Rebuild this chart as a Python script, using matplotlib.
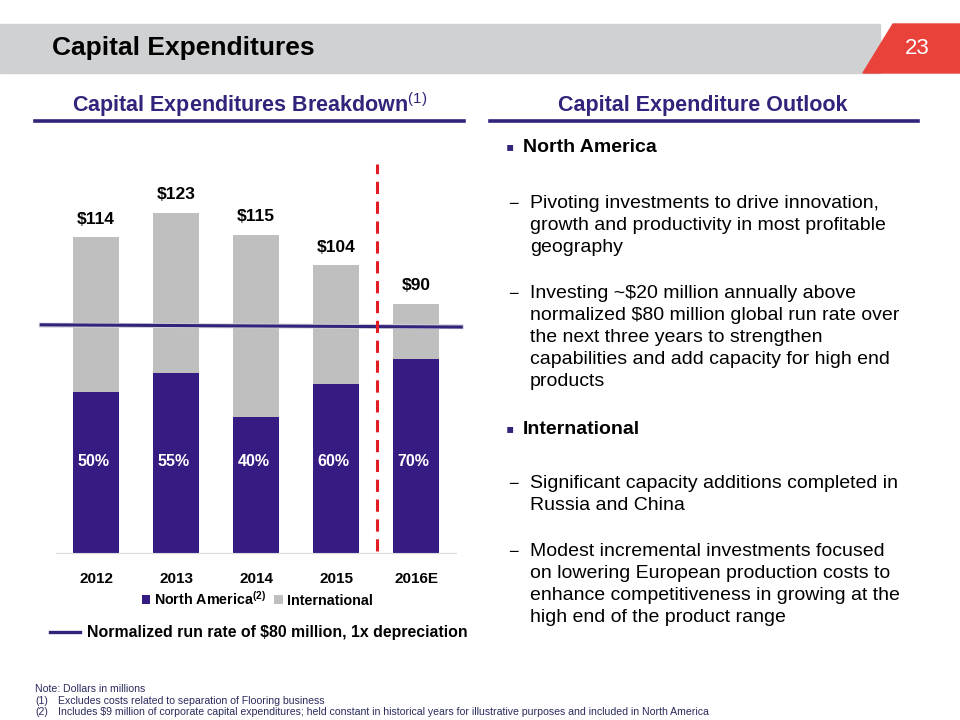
import matplotlib.pyplot as plt
import matplotlib.patches as mpatches
from matplotlib.lines import Line2D
import numpy as np

plt.rcParams['font.family'] = ['Liberation Sans', 'DejaVu Sans']
plt.rcParams['mathtext.fontset'] = 'custom'
plt.rcParams['mathtext.rm'] = 'Liberation Sans'
plt.rcParams['mathtext.bf'] = 'Liberation Sans:bold'

# data
years = ['2012', '2013', '2014', '2015', '2016E']
totals = [114, 123, 115, 104, 90]
north_america = [58, 65, 49, 61, 70]
international = [t - n for t, n in zip(totals, north_america)]
na_share = ['50%', '55%', '40%', '60%', '70%']
run_rate = 82

PURPLE = '#361C82'
GREY = '#BFBFBF'
HEAD = '#33237A'
RED = '#E8423A'

W, H = 960, 720
fig = plt.figure(figsize=(9.6, 7.2), dpi=100)

def fx(px):
    return px / W

def fy(py):
    return 1 - py / H

# title bar
fig.patches.append(mpatches.Rectangle((0, fy(73)), fx(880), fy(24) - fy(73),
                                      transform=fig.transFigure, color='#D0D1D3', zorder=0))
fig.patches.append(mpatches.Polygon([(fx(863), fy(73)), (fx(893), fy(24)), (1, fy(24)), (1, fy(73))],
                                    closed=True, transform=fig.transFigure, color=RED, zorder=1))
fig.text(fx(52), fy(48), 'Capital Expenditures', fontsize=19, fontweight='bold', va='center', ha='left')
fig.text(fx(917), fy(48), '23', fontsize=16, color='white', va='center', ha='center')

# section headers
fig.text(fx(250), fy(105), r'Capital Expenditures Breakdown$^{(1)}$', fontsize=15.5, fontweight='bold',
         color=HEAD, ha='center', va='center')
fig.text(fx(703), fy(105), 'Capital Expenditure Outlook', fontsize=15.5, fontweight='bold',
         color=HEAD, ha='center', va='center')
for x0, x1 in [(35, 464), (490, 918)]:
    fig.add_artist(Line2D([fx(x0), fx(x1)], [fy(121), fy(121)], color=HEAD, lw=2.6))

# chart
ax = fig.add_axes([fx(56), fy(552.7), fx(400), fy(160) - fy(552.7)])
x = np.arange(len(years))
ax.bar(x, north_america, 0.58, color=PURPLE, label=r'North America$^{\mathbf{(2)}}$')
ax.bar(x, international, 0.58, bottom=north_america, color=GREY, label='International')
ax.set_xlim(-0.5, 4.5)
ax.set_ylim(0, 142)

for i in range(len(years)):
    ax.annotate('$%d' % totals[i], (x[i], totals[i]), xytext=(0, 13), textcoords='offset points',
                ha='center', va='center', fontsize=12.5, fontweight='bold')
    ax.text(x[i] - 0.03, 33, na_share[i], ha='center', va='center', color='white',
            fontsize=11.5, fontweight='bold')

ax.plot([-0.684, 4.566], [run_rate + 0.3, run_rate - 0.3], color='#cfcfd8', lw=3.5, clip_on=False, zorder=3)
ax.plot([-0.684, 4.566], [run_rate + 0.4, run_rate - 0.4], color=HEAD, lw=2.2, clip_on=False, zorder=4)
ax.plot([3.51, 3.51], [0.5, 140.7], color='#E31B23', lw=2.2, ls=(0, (4, 2.5)), zorder=5)

for s in ['top', 'left', 'right']:
    ax.spines[s].set_visible(False)
ax.spines['bottom'].set_color('#D9D9D9')
ax.set_yticks([])
ax.set_xticks(x)
ax.set_xticklabels(years, fontsize=11, fontweight='bold')
ax.tick_params(axis='x', length=0, pad=14)

leg = fig.legend(loc='center', bbox_to_anchor=(fx(257), fy(599)), ncol=2, frameon=False,
                 handlelength=0.6, handleheight=0.6, handletextpad=0.25, columnspacing=0.6,
                 prop={'size': 10.3, 'weight': 'bold'})

fig.add_artist(Line2D([fx(50), fx(80)], [fy(632), fy(632)], color=HEAD, lw=2.4))
fig.text(fx(87), fy(632), 'Normalized run rate of $80 million, 1x depreciation', fontsize=11.4,
         fontweight='bold', va='center', ha='left')

# outlook text
blocks = [
    ('head', 'North America', 148),
    ('item', ['Pivoting investments to drive innovation,',
              'growth and productivity in most profitable',
              'geography'], 204),
    ('item', ['Investing ~$20 million annually above',
              'normalized $80 million global run rate over',
              'the next three years to strengthen',
              'capabilities and add capacity for high end',
              'products'], 294),
    ('head', 'International', 430),
    ('item', ['Significant capacity additions completed in',
              'Russia and China'], 484),
    ('item', ['Modest incremental investments focused',
              'on lowering European production costs to',
              'enhance competitiveness in growing at the',
              'high end of the product range'], 552),
]
for kind, content, y0 in blocks:
    if kind == 'head':
        fig.text(fx(510), fy(y0), '\u25aa', fontsize=17, color=HEAD, ha='center', va='center')
        fig.text(fx(523), fy(y0), content, fontsize=14, fontweight='bold', va='center', ha='left')
    else:
        fig.text(fx(513), fy(y0), '\u2212', fontsize=13, ha='center', va='center')
        for j, line in enumerate(content):
            fig.text(fx(530), fy(y0 + 22 * j), line, fontsize=14, va='center', ha='left')

# footnotes
NOTE = '#2B2B5E'
fs = 7.6
fig.text(fx(35), fy(689), 'Note: Dollars in millions', fontsize=fs, color=NOTE, va='center')
fig.text(fx(35), fy(700.5), '(1)', fontsize=fs, color=NOTE, va='center')
fig.text(fx(58), fy(700.5), 'Excludes costs related to separation of Flooring business', fontsize=fs,
         color=NOTE, va='center')
fig.text(fx(35), fy(712), '(2)', fontsize=fs, color=NOTE, va='center')
fig.text(fx(58), fy(712), 'Includes $9 million of corporate capital expenditures; held constant in historical '
         'years for illustrative purposes and included in North America', fontsize=fs, color=NOTE, va='center')

fig.savefig('out.png', dpi=100)
